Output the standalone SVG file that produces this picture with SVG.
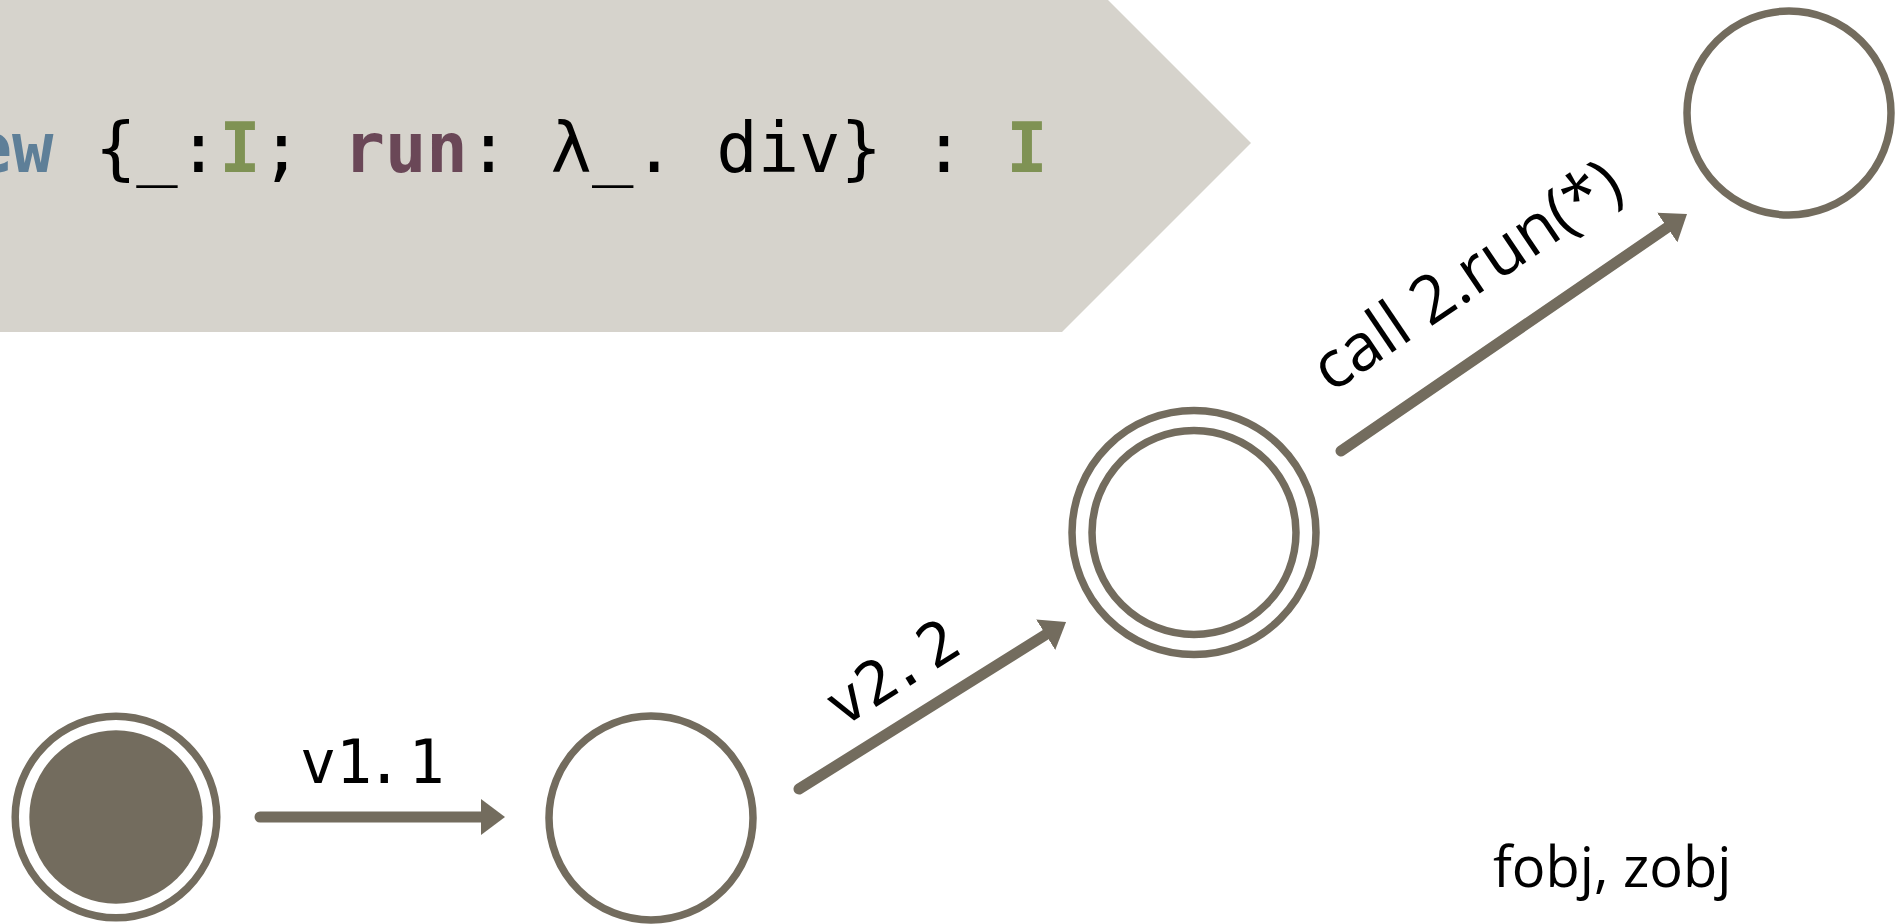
<svg xmlns="http://www.w3.org/2000/svg" width="1898" height="924" viewBox="0 0 1898 924">
  <defs>
    <style>
      .bg { fill: #ffffff; }
      .banner { fill: #D6D3CC; }
      .code { font-family: "DejaVu Sans Mono", "Liberation Mono", monospace; font-size: 68.8px; fill: #000000; }
      .kw { font-weight: bold; fill: #5E7F98; }
      .ty { font-weight: bold; fill: #7F9254; }
      .fn { font-weight: bold; fill: #6A4757; }
      .ring { fill: #ffffff; stroke: #736C5E; stroke-width: 7.5; }
      .dot { fill: #736C5E; }
      .edge { stroke: #736C5E; stroke-width: 11; stroke-linecap: round; fill: none; }
      .mono { font-family: "DejaVu Sans Mono", "Liberation Mono", monospace; font-size: 60px; fill: #000000; }
      .sans { font-family: "Open Sans", "Noto Sans", "Liberation Sans", sans-serif; font-size: 66px; fill: #000000; }
      .note { font-family: "Open Sans", "Noto Sans", "Liberation Sans", sans-serif; font-size: 56px; fill: #000000; }
    </style>
    <marker id="head" viewBox="0 0 24 36" refX="0" refY="18" markerWidth="24" markerHeight="36" markerUnits="userSpaceOnUse" orient="auto">
      <path d="M0,0 L24,18 L0,36 Z" fill="#736C5E"/>
    </marker>
  </defs>

  <rect class="bg" x="0" y="0" width="1898" height="924"/>

  <!-- code banner (chevron shape, running off the left and top edges) -->
  <g id="banner">
    <polygon class="banner" points="-10,-46 1062,-46 1251,143 1062,332 -10,332"/>
    <text class="code" x="-29.3" y="172" xml:space="preserve"><tspan class="kw">ew</tspan> {_:<tspan class="ty">I</tspan>; <tspan class="fn">run</tspan>: λ_. div} : <tspan class="ty">I</tspan></text>
  </g>

  <!-- states -->
  <g id="state-start">
    <circle class="ring" cx="116" cy="817" r="100.8"/>
    <circle class="dot" cx="116" cy="817" r="86.7"/>
  </g>
  <g id="state-1">
    <circle class="ring" cx="651" cy="818" r="102"/>
  </g>
  <g id="state-2">
    <circle class="ring" cx="1194" cy="532.5" r="122"/>
    <circle class="ring" cx="1194" cy="532.5" r="102"/>
  </g>
  <g id="state-3">
    <circle class="ring" cx="1789" cy="113" r="102"/>
  </g>

  <!-- transitions -->
  <g id="connectors">
    <line class="edge" x1="260" y1="817" x2="481" y2="817" marker-end="url(#head)"/>
    <text class="mono" x="300" y="783">v1<tspan dx="-6">.</tspan><tspan dx="6">1</tspan></text>

    <line class="edge" x1="799" y1="789" x2="1045.7" y2="634.7" marker-end="url(#head)"/>
    <text class="mono" x="903" y="690" text-anchor="middle" transform="rotate(-32 903 690)">v2<tspan dx="-6">.</tspan><tspan dx="6">2</tspan></text>

    <line class="edge" x1="1341" y1="451" x2="1667.2" y2="227.5" marker-end="url(#head)"/>
    <text class="sans" x="1479" y="294" text-anchor="middle" transform="rotate(-34 1479 294)">call 2.run(*)</text>
  </g>

  <g id="note">
    <text class="note" x="1493" y="887">fobj, zobj</text>
  </g>
</svg>
